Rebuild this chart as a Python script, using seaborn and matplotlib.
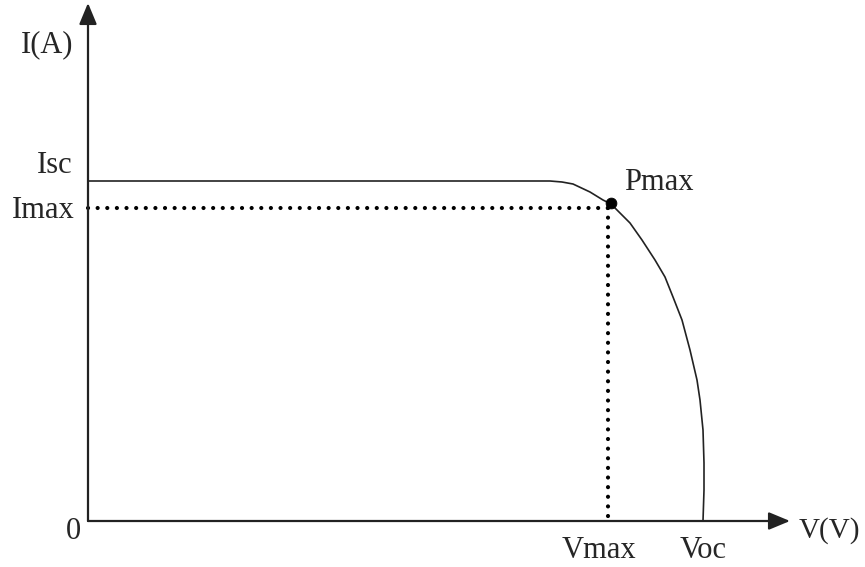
import matplotlib
matplotlib.use("Agg")
import matplotlib.pyplot as plt
import seaborn as sns
import pandas as pd

# I-V curve (arbitrary units)
voltage = [0, 462, 474, 485, 502, 515, 523, 542, 554, 567, 577, 585, 594,
           602, 609, 612, 615, 616, 616, 615]
current = [340, 340, 339, 337, 329, 321, 317, 298, 281, 261, 244, 224, 201,
           171, 141, 121, 91, 58, 31, 0]
v_max, i_max = 520, 313
p_point = (523, 318)
v_arrow_end, i_arrow_end = 702, 518

sns.set_style("white")
plt.rcParams["font.family"] = ["Liberation Serif", "DejaVu Serif"]

fig = plt.figure(figsize=(8.65, 5.67), dpi=100)
ax = fig.add_axes([0, 0, 1, 1])
ax.set_xlim(-88, 865 - 88)
ax.set_ylim(-46, 521)
ax.axis("off")

df = pd.DataFrame({"V": voltage, "I": current})
sns.lineplot(data=df, x="V", y="I", sort=False, ax=ax, color="#222222", lw=1.2,
             estimator=None)

# dotted guides
dot_kw = dict(color="black", lw=3.0, linestyle=(0, (0.01, 2.3)),
              dash_capstyle="round")
ax.plot([0, v_max], [i_max, i_max], **dot_kw)
ax.plot([v_max, v_max], [i_max, 0], **dot_kw)

sns.scatterplot(x=[p_point[0]], y=[p_point[1]], ax=ax, color="black", s=60,
                edgecolor="black", zorder=5)

# axes with arrows
arrow_kw = dict(arrowstyle="-|>,head_length=0.65,head_width=0.27", lw=1.6,
                color="#222222", mutation_scale=20, shrinkA=0, shrinkB=0)
ax.annotate("", xy=(0, i_arrow_end), xytext=(0, 0), arrowprops=arrow_kw)
ax.annotate("", xy=(v_arrow_end, 0), xytext=(0, 0), arrowprops=arrow_kw)

fs = 22
ax.text(-15, 469, "I(A)", ha="right", va="baseline", fontsize=fs)
ax.text(-15, 348, "Isc", ha="right", va="baseline", fontsize=fs)
ax.text(-13, 303, "Imax", ha="right", va="baseline", fontsize=fs)
ax.text(-7, -18, "0", ha="right", va="baseline", fontsize=fs)
ax.text(536, 331, "Pmax", ha="left", va="baseline", fontsize=fs)
ax.text(474, -37, "Vmax", ha="left", va="baseline", fontsize=fs)
ax.text(592, -37, "Voc", ha="left", va="baseline", fontsize=fs)
ax.text(711, -17, "V(V)", ha="left", va="baseline", fontsize=21)

fig.savefig("out.png", dpi=100)
